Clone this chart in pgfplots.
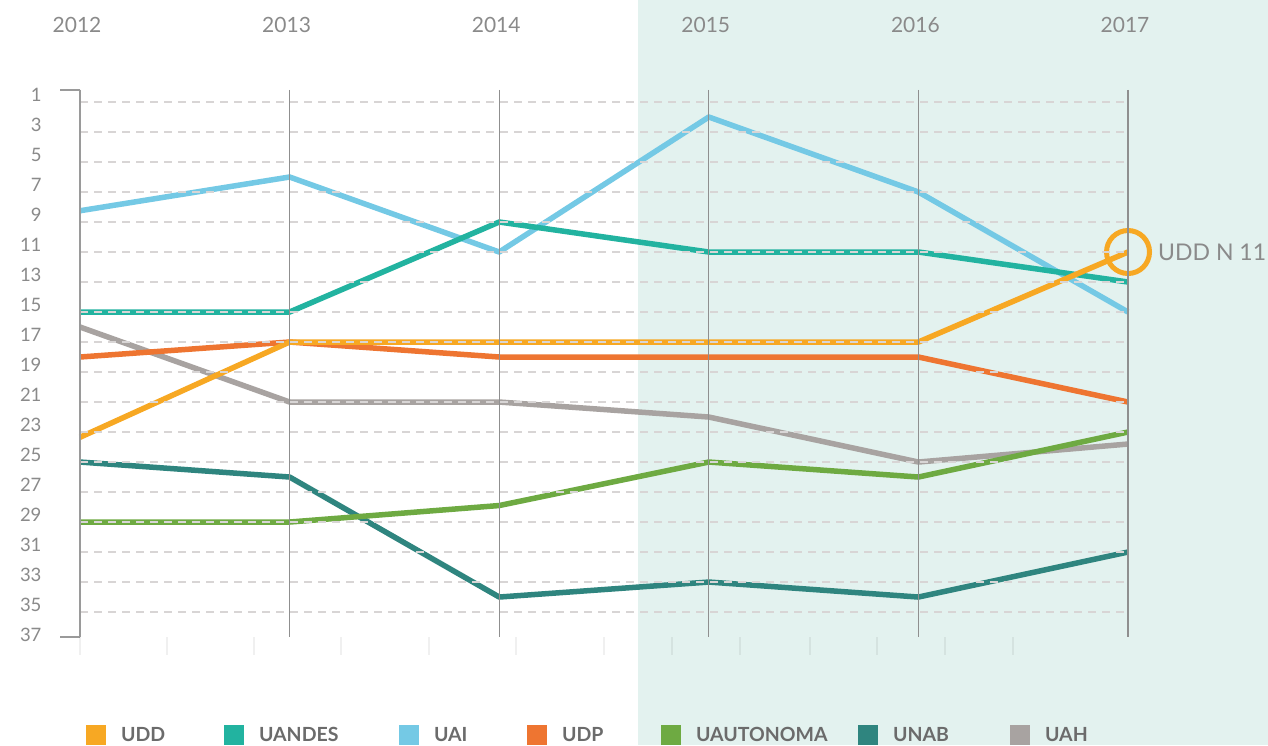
\documentclass[border=0pt]{standalone}
\usepackage{fontspec}
\setmainfont{Lato}
\usepackage{pgfplots}
\pgfplotsset{compat=1.18}
\definecolor{udd}{HTML}{F7A823}
\definecolor{uandes}{HTML}{22B3A0}
\definecolor{uai}{HTML}{74C9E5}
\definecolor{udp}{HTML}{EE7531}
\definecolor{uautonoma}{HTML}{6EAA42}
\definecolor{unab}{HTML}{2F857F}
\definecolor{uah}{HTML}{A8A3A1}
\definecolor{bgshade}{HTML}{E3F2EF}
\definecolor{labelgray}{HTML}{8A8A8A}
\definecolor{legtext}{HTML}{6B6B6B}
\definecolor{vgrid}{HTML}{8F8F8F}
\definecolor{lastgray}{HTML}{ABABAB}
\definecolor{gridc}{HTML}{D8D5D5}
\definecolor{axgray}{HTML}{9A9A9A}

\pgfplotstableread{
year UAH UNAB UAUTONOMA UDP UAI UANDES UDD
2012 16   25   29    18  8.25 15 23.35
2013 21   26   29    17  6    15 17
2014 21   34   27.9  18  11   9  17
2015 22   33   25    18  2    11 17
2016 25   34   26    18  7    11 17
2017 23.8 31   23    21  15   13 11
}\ranks

\begin{document}
\begin{tikzpicture}
\begin{axis}[
  set layers, axis on top,
  scale only axis, width=1048bp, height=547bp,
  xmin=2012, xmax=2017, ymin=0.2, ymax=36.667, y dir=reverse,
  clip=false,
  axis x line*=top, axis y line*=left,
  x axis line style={draw=none},
  y axis line style={draw=axgray, line width=1.5bp},
  major tick length=0pt,
  xtick={2012,2013,2014,2015,2016},
  xticklabels={2012,2013,2014,2015,2016},
  extra x ticks={2017}, extra x tick labels={2017},
  xmajorgrids=true,
  x grid style={draw=vgrid, line width=1.2bp},
  extra x tick style={major grid style={draw=lastgray, line width=2.2bp}},
  x tick label style={anchor=center, yshift=65bp, xshift=-3bp, text=labelgray, font=\fontsize{21bp}{25bp}\selectfont},
  ytick={0.5333,2.5333,4.5333,6.5333,8.5333,10.5333,12.5333,14.5333,16.5333,18.5333,20.5333,22.5333,24.5333,26.5333,28.5333,30.5333,32.5333,34.5333,36.5333},
  yticklabels={1,3,5,7,9,11,13,15,17,19,21,23,25,27,29,31,33,35,37},
  y tick label style={text=labelgray, font=\fontsize{18.5bp}{20bp}\selectfont, xshift=-35bp},
  extra y ticks={1,3,5,7,9,11,13,15,17,19,21,23,25,27,29,31,33,35},
  extra y tick labels={},
  extra y tick style={grid=major, major grid style={draw=gridc, line width=1.3bp, dash pattern=on 8bp off 6bp}},
  every axis plot/.append style={line width=5.5bp, line join=round, mark=none},
  legend columns=7, reverse legend,
  legend image code/.code={\fill[#1, draw=none] (0bp,-10bp) rectangle (20bp,10bp);},
  legend style={draw=none, fill=none, at={(axis description cs:0.00573,-0.1785)}, anchor=west,
    column sep=0bp, inner sep=0bp, outer sep=0bp,
    nodes={inner sep=0bp, text=legtext, font=\bfseries\fontsize{19.5bp}{22bp}\selectfont}},
]
\begin{pgfonlayer}{axis background}
  \fill[white] (axis cs:2011.6183,-5.8) rectangle (axis cs:2017.6679,43.867);
  \fill[bgshade] (axis cs:2014.6622,-5.8) rectangle (axis cs:2017.6679,43.867);
\end{pgfonlayer}
\coordinate (TL) at (axis cs:2011.6183,-5.8);
\coordinate (BR) at (axis cs:2017.6679,43.867);

\addplot[color=uah] table[x=year, y=UAH] {\ranks};
\addlegendentry{\makebox[60bp][l]{\hspace{15bp}UAH}}
\addplot[color=unab] table[x=year, y=UNAB] {\ranks};
\addlegendentry{\makebox[132bp][l]{\hspace{15bp}UNAB}}
\addplot[color=uautonoma] table[x=year, y=UAUTONOMA] {\ranks};
\addlegendentry{\makebox[177bp][l]{\hspace{15bp}UAUTONOMA}}
\addplot[color=udp] table[x=year, y=UDP] {\ranks};
\addlegendentry{\makebox[114bp][l]{\hspace{15bp}UDP}}
\addplot[color=uai] table[x=year, y=UAI] {\ranks};
\addlegendentry{\makebox[108bp][l]{\hspace{15bp}UAI}}
\addplot[color=uandes] table[x=year, y=UANDES] {\ranks};
\addlegendentry{\makebox[155bp][l]{\hspace{15bp}UANDES}}
\addplot[color=udd] table[x=year, y=UDD] {\ranks};
\addlegendentry{\makebox[118bp][l]{\hspace{15bp}UDD}}

\addplot[forget plot, only marks, mark=*, mark size=21.5bp, mark options={draw=udd, fill=udd, fill opacity=0, line width=5bp}] coordinates {(2017,11)};
\node[anchor=west, inner sep=0pt, text=labelgray, font=\fontsize{23bp}{27bp}\selectfont, xshift=30bp] at (axis cs:2017,11) {UDD N 11};

\draw[axgray, line width=1.5bp] (axis cs:2012,0.2) -- ++(-20bp,0pt);
\draw[axgray, line width=1.5bp] (axis cs:2012,36.667) -- ++(-20bp,0pt);
\pgfplotsinvokeforeach{2012,2012.4151,2012.8302,2013.2452,2013.6651,2014.0802,2014.5,2014.8244,2015.1489,2015.4828,2015.8024,2016.1269,2016.4513}{
  \draw[black, opacity=0.06, line width=1.2bp] (axis cs:#1,36.667) -- (axis cs:#1,37.867);
}
\end{axis}
\pgfresetboundingbox
\path[use as bounding box] (TL) rectangle (BR);
\end{tikzpicture}
\end{document}
